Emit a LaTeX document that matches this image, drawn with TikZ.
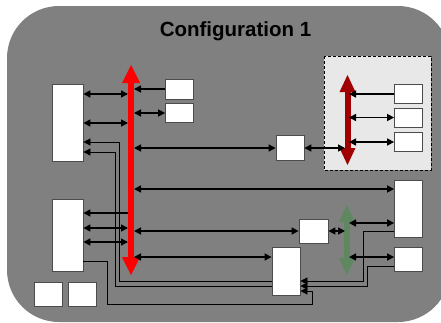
\documentclass[tikz,border=0pt]{standalone}
\usepackage{fontspec}
\setmainfont{Liberation Sans}
\usepackage{xcolor}
\usetikzlibrary{arrows.meta}

\definecolor{panel}{RGB}{128,128,128}
\definecolor{subpanel}{RGB}{232,232,232}
\definecolor{busred}{RGB}{255,0,0}
\definecolor{busdark}{RGB}{160,0,0}
\definecolor{busgreen}{RGB}{96,136,96}

\tikzset{
  box/.style={draw=black!70,fill=white,line width=0.8pt,inner sep=0pt,minimum width=28pt},
  wire/.style={line width=0.8pt},
  bigbus/.style={line width=6pt,{Triangle[length=18pt,width=18pt,line width=0pt]}-{Triangle[length=18pt,width=18pt,line width=0pt]}},
  smallbus/.style={line width=6pt,{Triangle[length=17pt,width=16pt,line width=0pt]}-{Triangle[length=17pt,width=16pt,line width=0pt]}}
}

\begin{document}
\begin{tikzpicture}[x=1pt,y=-1pt,>={Triangle[length=7pt,width=7pt]},line width=1.5pt]
    \useasboundingbox (0,0) rectangle (441,322);
    \clip (0,0) rectangle (441,322);
    \fill[panel,rounded corners=52pt] (7,6) rectangle (450,322);
    \node[font=\bfseries\fontsize{20.5}{24}\selectfont,anchor=base] (title) at (235.5,36) {Configuration 1};
    \draw[fill=subpanel,line width=0.6pt,dash pattern=on 3pt off 2pt] (324,56) rectangle (431,170);

    % buses
    \coordinate (redtop) at (131,65);
    \coordinate (redbot) at (131,275);
    \coordinate (darktop) at (347.5,75);
    \coordinate (darkbot) at (347.5,165);
    \coordinate (greentop) at (347,205);
    \coordinate (greenbot) at (347,275);
    \draw[bigbus,busred] (redtop) -- (redbot);
    \draw[smallbus,busdark] (darktop) -- (darkbot);
    \draw[smallbus,busgreen] (greentop) -- (greenbot);
    \coordinate (rl) at (128,0);
    \coordinate (rr) at (134,0);
    \coordinate (dl) at (345,0);
    \coordinate (dr) at (349,0);
    \coordinate (gl) at (345,0);
    \coordinate (gr) at (349,0);

    % boxes
    \node[box,minimum width=31pt,minimum height=77pt] (L1) at (67.5,122.5) {};
    \node[box,minimum width=31pt,minimum height=72pt] (L2) at (67.5,235) {};
    \node[box,minimum height=24pt] (B1) at (48,294) {};
    \node[box,minimum height=24pt] (B2) at (82.5,294) {};
    \node[box,minimum height=20pt] (T1) at (179.5,89) {};
    \node[box,minimum height=19pt] (T2) at (179.5,113) {};
    \node[box,minimum height=25pt] (M1) at (290,148) {};
    \node[box,minimum height=19pt] (D1) at (408.5,94) {};
    \node[box,minimum height=19pt] (D2) at (408.5,117.5) {};
    \node[box,minimum height=19pt] (D3) at (408.5,142) {};
    \node[box,minimum height=57pt] (R1) at (408.5,208.5) {};
    \node[box,minimum height=24pt] (R2) at (408.5,259) {};
    \node[box,minimum width=29pt,minimum height=24pt] (S1) at (313.5,231) {};
    \node[box,minimum height=48pt] (C1) at (286,271) {};

    % side lines
    \draw[wire,->] (C1.west |- 0,281) -| (119,142) -- (L1.east |- 0,142);
    \draw[wire,->] (C1.west |- 0,286) -| (115,152) -- (L1.east |- 0,152);
    \draw[wire,->] (R1.west |- 0,231.5) -| (363,281) -- (C1.east |- 0,281);
    \draw[wire,->] (R2.west |- 0,266.5) -| (367,286) -- (C1.east |- 0,286);
    \draw[wire,->] (L2.east |- 0,261) -| (107,304) -| (312,291) -- (C1.east |- 0,291);

    % red bus links
    \draw[->] (T1.west) -- (T1.west -| rr);
    \draw[<->] (rr |- T2.west) -- (T2.west);
    \draw[<->] (rr |- M1.west) -- (M1.west);
    \draw[<->] (rr |- 0,189) -- (R1.west |- 0,189);
    \draw[<->] (rr |- S1.west) -- (S1.west);
    \draw[<->] (rr |- 0,257) -- (C1.west |- 0,257);
    \draw[<->] (L1.east |- 0,94) -- (rl |- 0,94);
    \draw[<->] (L1.east |- 0,123) -- (rl |- 0,123);
    \draw[->] (rl |- 0,213) -- (L2.east |- 0,213);
    \draw[<->] (L2.east |- 0,228) -- (rl |- 0,228);
    \draw[<->] (L2.east |- 0,242) -- (rl |- 0,242);

    % dark bus links
    \draw[<->] (M1.east) -- (M1.east -| dl);
    \draw[->] (D1.west) -- (D1.west -| dr);
    \draw[<->] (dr |- D2.west) -- (D2.west);
    \draw[<->] (dr |- D3.west) -- (D3.west);

    % green bus links
    \draw[<->] (S1.east) -- (S1.east -| gl);
    \draw[<->] (gr |- 0,223) -- (R1.west |- 0,223);
    \draw[<->] (gr |- 0,257) -- (R2.west |- 0,257);
\end{tikzpicture}
\end{document}
